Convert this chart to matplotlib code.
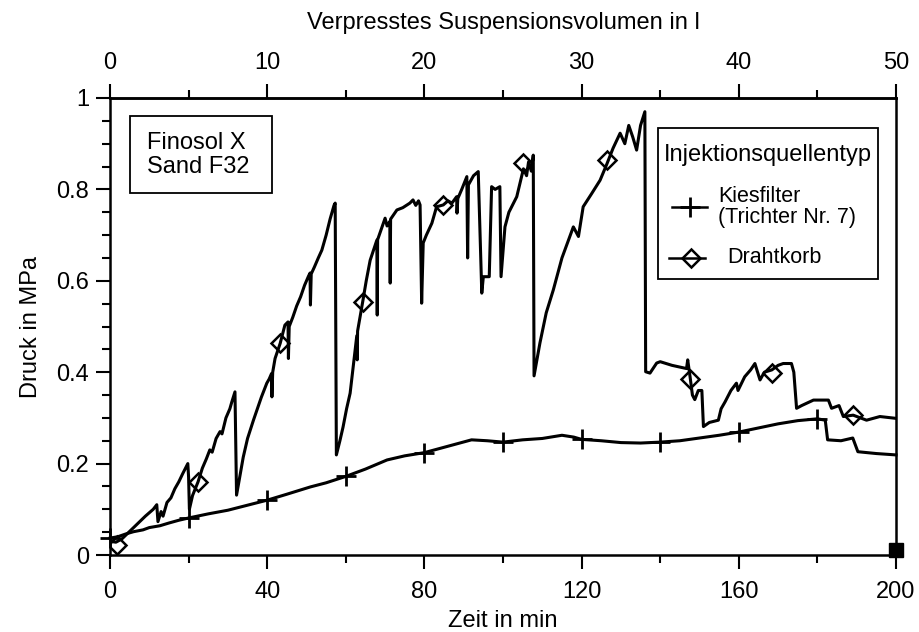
"""Druckverlauf bei Injektion: Kiesfilter vs. Drahtkorb (out.png)."""

import numpy as np
import matplotlib
matplotlib.use("Agg")
import matplotlib.pyplot as plt
from matplotlib.lines import Line2D
from matplotlib.patches import Rectangle

plt.rcParams["font.family"] = ["Liberation Sans", "DejaVu Sans"]

# Kiesfilter (Trichter Nr. 7): Zeit in min, Druck in MPa
kies_t = [0, 2, 4, 6, 8.4, 10, 12.7, 15, 17.5, 20, 25, 30, 35, 40, 45, 51, 55,
          60, 65, 70.5, 75, 80, 86, 92, 96, 100, 105, 110, 115, 118, 120, 125,
          130, 135, 140, 145, 150, 155, 160, 165, 170, 175, 180, 182.0, 182.6,
          186, 189, 190.3, 195, 200]
kies_p = [0.037, 0.040, 0.046, 0.051, 0.055, 0.060, 0.064, 0.070, 0.076, 0.081,
          0.090, 0.098, 0.109, 0.120, 0.133, 0.149, 0.158, 0.172, 0.188, 0.208,
          0.217, 0.224, 0.238, 0.252, 0.250, 0.247, 0.252, 0.255, 0.262, 0.258,
          0.253, 0.250, 0.246, 0.245, 0.247, 0.250, 0.256, 0.262, 0.269, 0.278,
          0.287, 0.294, 0.298, 0.295, 0.252, 0.250, 0.256, 0.226, 0.222, 0.219]
kies_mark_t = [0, 20, 40, 60, 80, 100, 120, 140, 160, 180]

# Drahtkorb
draht_t = [0.0, 1.5, 3.0, 6.0, 9.0, 11.0, 11.9, 12.2, 13.0, 13.5, 14.5, 15.5,
           16.5, 17.5, 18.5, 19.2, 19.8, 20.0, 20.2, 21.0, 22.4, 23.5, 24.5,
           25.4, 26.0, 27.0, 28.0, 28.5, 29.5, 30.5, 31.0, 31.4, 31.8, 32.2,
           33.0, 33.9, 35.0, 36.5, 37.5, 38.5, 39.9, 40.5, 41.1, 41.2, 41.4,
           42.0, 43.3, 44.5, 45.3, 45.4, 45.6, 46.5, 47.5, 48.5, 49.5, 50.5,
           50.9, 51.0, 51.2, 52.0, 53.0, 53.9, 55.0, 56.0, 57.0, 57.3, 57.6,
           58.5, 59.3, 60.2, 61.1, 62.0, 62.8, 62.9, 63.0, 64.3, 65.2, 66.2,
           67.9, 68.0, 68.1, 70.0, 70.5, 71.2, 71.3, 71.4, 73.0, 74.5, 76.3,
           77.1, 77.8, 78.5, 78.9, 79.3, 79.7, 80.5, 81.9, 83.1, 84.8, 86.0,
           87.0, 88.2, 88.3, 88.5, 89.5, 90.8, 91.0, 91.2, 92.5, 93.7, 94.6,
           95.0, 96.5, 97.1, 98.0, 99.2, 99.5, 100.5, 101.5, 103.5, 104.5,
           105.2, 106.0, 106.5, 107.2, 107.7, 107.9, 109.4, 111.0, 112.8,
           115.0, 117.9, 119.2, 120.4, 122.5, 124.7, 126.4, 128.0, 129.8,
           131.0, 132.0, 133.0, 134.0, 135.0, 136.1, 136.3, 137.4, 139.1,
           140.0, 143.0, 146.7, 147.0, 147.6, 148.2, 148.8, 149.7, 150.6,
           151.0, 152.5, 154.8, 155.5, 156.5, 158.0, 159.4, 159.8, 161.5,
           163.0, 164.1, 165.4, 166.5, 168.4, 170.0, 171.3, 173.4, 174.0,
           174.7, 176.0, 179.0, 182.8, 183.6, 185.5, 186.6, 189.1, 192.5,
           195.9, 200.0]
draht_p = [0.030, 0.028, 0.035, 0.060, 0.085, 0.100, 0.110, 0.073, 0.095, 0.085,
           0.115, 0.125, 0.145, 0.160, 0.178, 0.190, 0.200, 0.170, 0.100, 0.130,
           0.160, 0.190, 0.210, 0.230, 0.225, 0.255, 0.270, 0.265, 0.300, 0.320,
           0.335, 0.346, 0.357, 0.131, 0.170, 0.214, 0.255, 0.295, 0.320, 0.345,
           0.376, 0.385, 0.397, 0.346, 0.400, 0.430, 0.463, 0.503, 0.510, 0.430,
           0.500, 0.520, 0.545, 0.565, 0.590, 0.610, 0.617, 0.547, 0.615, 0.630,
           0.650, 0.667, 0.700, 0.735, 0.765, 0.770, 0.219, 0.250, 0.280, 0.320,
           0.354, 0.420, 0.480, 0.427, 0.490, 0.554, 0.600, 0.645, 0.689, 0.525,
           0.690, 0.737, 0.720, 0.730, 0.595, 0.735, 0.755, 0.760, 0.770, 0.777,
           0.765, 0.775, 0.766, 0.551, 0.683, 0.700, 0.726, 0.762, 0.766, 0.775,
           0.770, 0.784, 0.748, 0.780, 0.800, 0.828, 0.650, 0.810, 0.830, 0.839,
           0.573, 0.609, 0.609, 0.806, 0.800, 0.806, 0.609, 0.718, 0.750, 0.784,
           0.820, 0.845, 0.830, 0.860, 0.840, 0.875, 0.392, 0.464, 0.530, 0.580,
           0.650, 0.718, 0.697, 0.762, 0.790, 0.820, 0.855, 0.890, 0.923, 0.900,
           0.940, 0.915, 0.886, 0.940, 0.970, 0.401, 0.398, 0.420, 0.423, 0.415,
           0.408, 0.427, 0.390, 0.350, 0.340, 0.360, 0.360, 0.281, 0.290, 0.295,
           0.320, 0.335, 0.360, 0.376, 0.360, 0.390, 0.405, 0.419, 0.383, 0.400,
           0.405, 0.415, 0.419, 0.419, 0.400, 0.321, 0.327, 0.339, 0.339, 0.321,
           0.327, 0.303, 0.306, 0.295, 0.303, 0.299]
draht_mark_t = [1.7, 22.4, 43.3, 64.3, 84.8, 105.2, 126.4, 147.6, 168.4, 189.1]
draht_mark_p = [0.022, 0.160, 0.463, 0.554, 0.766, 0.858, 0.864, 0.385, 0.398, 0.306]

end_t = [200]
end_p = [0.012]

FS = 17
KIES_STYLE = dict(color="black", marker="+", ms=15, mew=2)
DRAHT_STYLE = dict(color="black", marker="D", ms=9, mew=1.8, mfc="none")

fig = plt.figure(figsize=(9.19, 6.32), dpi=100)
ax = fig.add_axes([110 / 919, 1 - 555 / 632, 786 / 919, 457 / 632])

kies_idx = [kies_t.index(t) for t in kies_mark_t]
ax.plot(kies_t, kies_p, lw=2.2, markevery=kies_idx, clip_on=False, zorder=3,
        **KIES_STYLE)
ax.plot(draht_t, draht_p, color="black", lw=2.2, zorder=3)
ax.plot(draht_mark_t, draht_mark_p, ls="none", zorder=4, **DRAHT_STYLE)
ax.plot(end_t, end_p, ls="none", marker="s", ms=10, color="black",
        clip_on=False, zorder=5)

ax.set_xlim(0, 200)
ax.set_ylim(0, 1)
ax.set_xticks(np.arange(0, 201, 40))
ax.set_xticks(np.arange(20, 200, 40), minor=True)
ax.set_yticks(np.arange(0, 1.01, 0.2))
ax.set_yticks(np.arange(0, 1.01, 0.05), minor=True)
ax.set_yticklabels(["0", "0.2", "0.4", "0.6", "0.8", "1"])
ax.tick_params(which="both", direction="out", width=1.5, labelsize=FS,
               right=False, top=False)
ax.tick_params(which="major", length=10, pad=5)
ax.tick_params(axis="x", which="major", pad=9)
ax.tick_params(which="minor", length=6)
for s in ax.spines.values():
    s.set_linewidth(1.8)

ax.set_xlabel("Zeit in min", fontsize=FS, labelpad=5)
ax.set_ylabel("Druck in MPa", fontsize=FS, labelpad=10)

top = ax.secondary_xaxis("top", functions=(lambda t: t / 4, lambda v: v * 4))
top.set_xticks(np.arange(0, 51, 10))
top.set_xticks(np.arange(5, 50, 10), minor=True)
top.tick_params(which="both", direction="out", width=1.5, labelsize=FS)
top.tick_params(which="major", length=10, pad=7)
top.tick_params(which="minor", length=6)
top.spines["top"].set_linewidth(1.8)
top.set_xlabel("Verpresstes Suspensionsvolumen in l", fontsize=FS, labelpad=17)

# Beschriftungskasten oben links
ax.add_patch(Rectangle((0.0254, 0.792), 0.181, 0.169, transform=ax.transAxes,
                       fc="white", ec="black", lw=1.3, zorder=5))
ax.text(0.047, 0.876, "Finosol X\nSand F32", transform=ax.transAxes,
        fontsize=FS, va="center", ha="left", linespacing=1.1, zorder=6)

# Legende (Kasten rechts oben)
ax.add_patch(Rectangle((0.6972, 0.6039), 0.2799, 0.3305, transform=ax.transAxes,
                       fc="white", ec="black", lw=1.3, zorder=5))
ax.text(0.8372, 0.8753, "Injektionsquellentyp", transform=ax.transAxes,
        fontsize=FS, ha="center", va="center", zorder=6)
ax.add_line(Line2D([0.7150, 0.7379, 0.7595], [0.7615] * 3, lw=1.8,
                   markevery=[1], transform=ax.transAxes, zorder=6,
                   **KIES_STYLE))
ax.text(0.7735, 0.7604, "Kiesfilter\n(Trichter Nr. 7)", transform=ax.transAxes,
        fontsize=15.5, ha="left", va="center", linespacing=1.0, zorder=6)
ax.add_line(Line2D([0.7112, 0.7392, 0.7570], [0.6499] * 3, lw=1.8,
                   markevery=[1], transform=ax.transAxes, zorder=6,
                   **DRAHT_STYLE))
ax.text(0.785, 0.6499, "Drahtkorb", transform=ax.transAxes,
        fontsize=15.5, ha="left", va="center", zorder=6)

fig.savefig("out.png", dpi=100)
